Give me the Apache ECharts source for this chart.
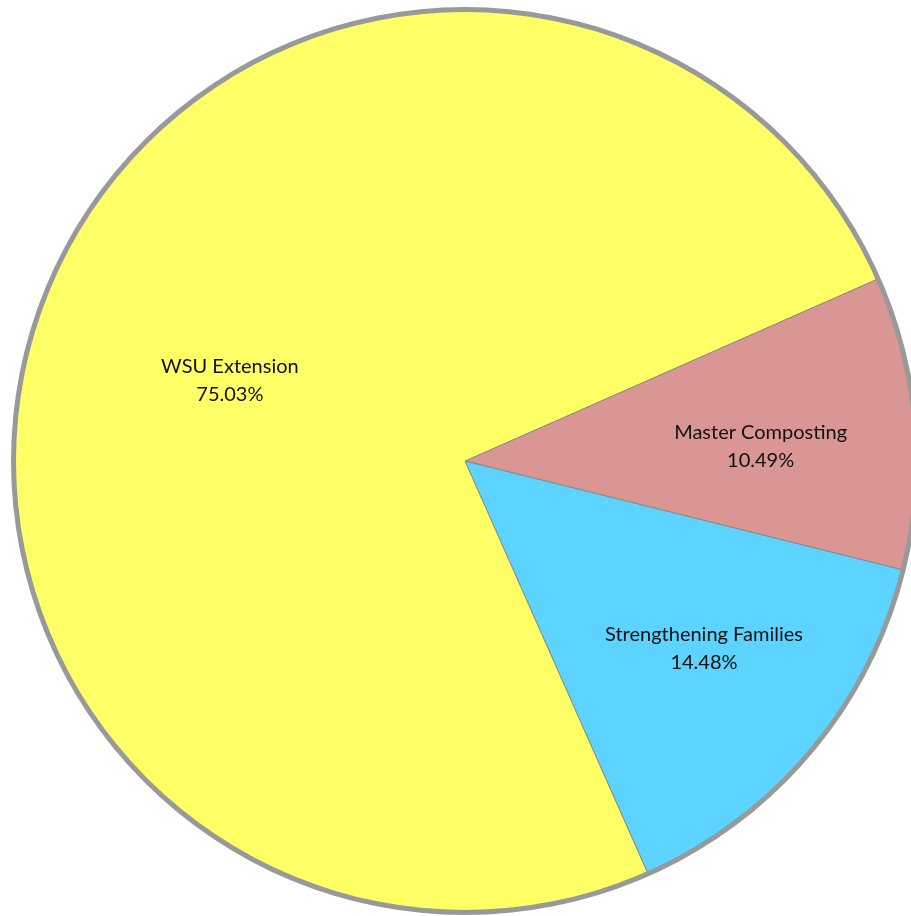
<!DOCTYPE html>
<html>
<head>
<meta charset="utf-8">
<script src="https://cdn.jsdelivr.net/npm/echarts@6/dist/echarts.min.js"></script>
<style>
html,body{margin:0;padding:0;background:#fff;}
#chart{width:911px;height:916px;}
</style>
</head>
<body>
<div id="chart"></div>
<script>
const categories = ['Master Composting', 'Strengthening Families', 'WSU Extension'];
const values = [10.49, 14.48, 75.03];
const colors = ['#D99694', '#5DD3FF', '#FFFF66'];
const labelOffsets = [[68, 5], [64, 41], [-22, 1.5]];

const chart = echarts.init(document.getElementById('chart'));
chart.setOption({
  animation: false,
  series: [
    {
      type: 'pie',
      center: [465, 461],
      radius: [0, 451],
      startAngle: 23.8,
      clockwise: true,
      silent: true,
      itemStyle: { borderColor: '#888', borderWidth: 1 },
      label: {
        show: true,
        position: 'inside',
        formatter: '{b}\n{d}%',
        fontFamily: 'Lato',
        fontSize: 20,
        lineHeight: 28,
        color: '#111'
      },
      labelLine: { show: false },
      data: categories.map((c, i) => ({
        name: c,
        value: values[i],
        itemStyle: { color: colors[i] },
        label: { offset: labelOffsets[i] }
      }))
    },
    {
      type: 'pie',
      center: [465, 461],
      radius: [449, 454],
      silent: true,
      label: { show: false },
      labelLine: { show: false },
      itemStyle: { color: '#999' },
      data: [{ name: 'outline', value: 1 }]
    }
  ]
});
</script>
</body>
</html>
